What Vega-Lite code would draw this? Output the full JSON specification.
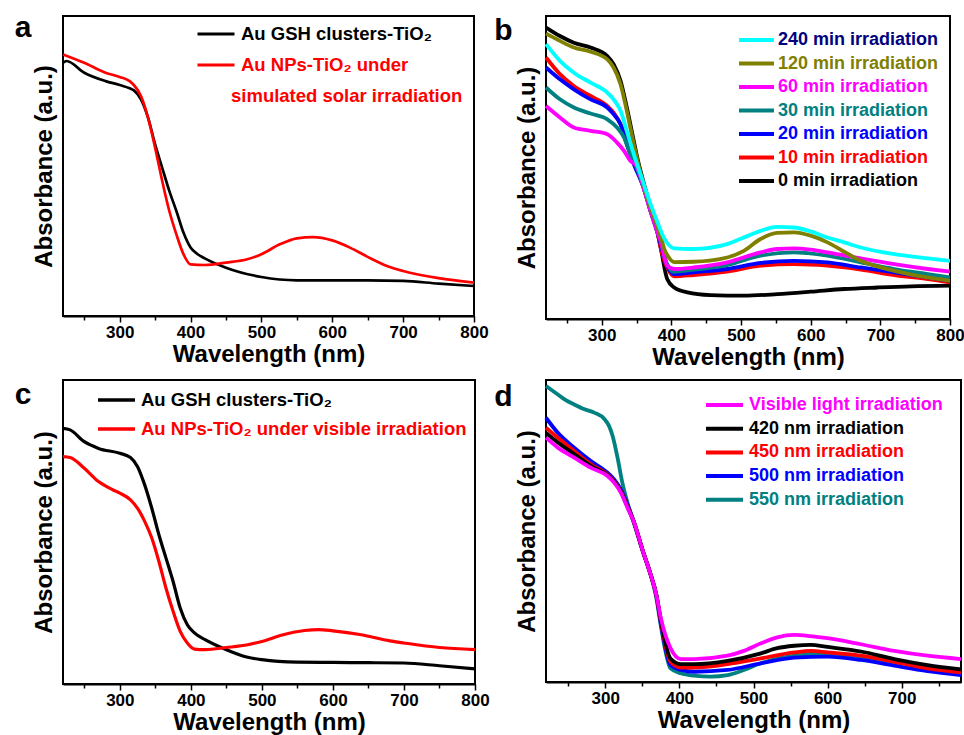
{
  "$schema": "https://vega.github.io/schema/vega-lite/v6.json",
  "autosize": {"type": "pad"},
  "padding": {"left": 13, "top": 12, "right": 0, "bottom": 0},
  "background": "white",
  "config": {
    "font": "Liberation Sans",
    "view": {"stroke": "#000", "strokeWidth": 2},
    "axis": {"grid": false, "labelFont": "Liberation Sans", "titleFont": "Liberation Sans", "labelFontWeight": "bold", "titleFontWeight": "bold", "labelColor": "#000", "titleColor": "#000", "domainColor": "#000", "tickColor": "#000"},
    "legend": {"title": null, "orient": "none", "symbolType": "stroke", "labelFont": "Liberation Sans", "labelFontWeight": "bold", "labelFontSize": 18, "labelOffset": 4, "labelLimit": 400},
    "title": {"font": "Liberation Sans", "fontWeight": "bold", "fontSize": 30, "anchor": "end", "frame": "group", "orient": "left", "angle": 0, "align": "right", "baseline": "top", "offset": -16, "color": "#000"}
  },
  "datasets": {
    "a": [
      {"s": "Au GSH clusters-TiO₂", "wl": 220, "abs": 84.4}, {"s": "Au GSH clusters-TiO₂", "wl": 225, "abs": 85.0}, {"s": "Au GSH clusters-TiO₂", "wl": 250, "abs": 81.1}, {"s": "Au GSH clusters-TiO₂", "wl": 280, "abs": 78.3}, {"s": "Au GSH clusters-TiO₂", "wl": 300, "abs": 77.0}, {"s": "Au GSH clusters-TiO₂", "wl": 314, "abs": 75.9}, {"s": "Au GSH clusters-TiO₂", "wl": 320, "abs": 75.2}, {"s": "Au GSH clusters-TiO₂", "wl": 330, "abs": 72.2}, {"s": "Au GSH clusters-TiO₂", "wl": 340, "abs": 66.1}, {"s": "Au GSH clusters-TiO₂", "wl": 350, "abs": 57.2}, {"s": "Au GSH clusters-TiO₂", "wl": 360, "abs": 49.4}, {"s": "Au GSH clusters-TiO₂", "wl": 370, "abs": 41.7}, {"s": "Au GSH clusters-TiO₂", "wl": 380, "abs": 35.0}, {"s": "Au GSH clusters-TiO₂", "wl": 390, "abs": 27.8}, {"s": "Au GSH clusters-TiO₂", "wl": 400, "abs": 22.8}, {"s": "Au GSH clusters-TiO₂", "wl": 410, "abs": 20.6}, {"s": "Au GSH clusters-TiO₂", "wl": 420, "abs": 19.2}, {"s": "Au GSH clusters-TiO₂", "wl": 450, "abs": 16.1}, {"s": "Au GSH clusters-TiO₂", "wl": 500, "abs": 13.0}, {"s": "Au GSH clusters-TiO₂", "wl": 550, "abs": 11.9}, {"s": "Au GSH clusters-TiO₂", "wl": 600, "abs": 11.9}, {"s": "Au GSH clusters-TiO₂", "wl": 650, "abs": 11.9}, {"s": "Au GSH clusters-TiO₂", "wl": 700, "abs": 11.7}, {"s": "Au GSH clusters-TiO₂", "wl": 750, "abs": 10.8}, {"s": "Au GSH clusters-TiO₂", "wl": 800, "abs": 10.0},
      {"s": "Au NPs-TiO₂ under", "wl": 220, "abs": 87.2}, {"s": "Au NPs-TiO₂ under", "wl": 250, "abs": 84.4}, {"s": "Au NPs-TiO₂ under", "wl": 280, "abs": 81.1}, {"s": "Au NPs-TiO₂ under", "wl": 300, "abs": 79.7}, {"s": "Au NPs-TiO₂ under", "wl": 314, "abs": 78.3}, {"s": "Au NPs-TiO₂ under", "wl": 320, "abs": 77.0}, {"s": "Au NPs-TiO₂ under", "wl": 330, "abs": 73.3}, {"s": "Au NPs-TiO₂ under", "wl": 340, "abs": 66.1}, {"s": "Au NPs-TiO₂ under", "wl": 350, "abs": 56.1}, {"s": "Au NPs-TiO₂ under", "wl": 360, "abs": 45.0}, {"s": "Au NPs-TiO₂ under", "wl": 370, "abs": 35.0}, {"s": "Au NPs-TiO₂ under", "wl": 380, "abs": 27.2}, {"s": "Au NPs-TiO₂ under", "wl": 390, "abs": 20.6}, {"s": "Au NPs-TiO₂ under", "wl": 400, "abs": 17.2}, {"s": "Au NPs-TiO₂ under", "wl": 420, "abs": 17.0}, {"s": "Au NPs-TiO₂ under", "wl": 450, "abs": 17.8}, {"s": "Au NPs-TiO₂ under", "wl": 480, "abs": 18.9}, {"s": "Au NPs-TiO₂ under", "wl": 500, "abs": 20.6}, {"s": "Au NPs-TiO₂ under", "wl": 526, "abs": 23.9}, {"s": "Au NPs-TiO₂ under", "wl": 550, "abs": 25.9}, {"s": "Au NPs-TiO₂ under", "wl": 573, "abs": 26.3}, {"s": "Au NPs-TiO₂ under", "wl": 600, "abs": 25.2}, {"s": "Au NPs-TiO₂ under", "wl": 625, "abs": 22.8}, {"s": "Au NPs-TiO₂ under", "wl": 650, "abs": 19.7}, {"s": "Au NPs-TiO₂ under", "wl": 677, "abs": 16.7}, {"s": "Au NPs-TiO₂ under", "wl": 700, "abs": 15.0}, {"s": "Au NPs-TiO₂ under", "wl": 750, "abs": 12.6}, {"s": "Au NPs-TiO₂ under", "wl": 800, "abs": 11.1}
    ],
    "b": [
      {"s": "0 min irradiation", "wl": 220, "abs": 96.2}, {"s": "0 min irradiation", "wl": 240, "abs": 93.4}, {"s": "0 min irradiation", "wl": 260, "abs": 91.2}, {"s": "0 min irradiation", "wl": 284, "abs": 89.6}, {"s": "0 min irradiation", "wl": 308, "abs": 86.8}, {"s": "0 min irradiation", "wl": 317, "abs": 84.1}, {"s": "0 min irradiation", "wl": 327, "abs": 78.6}, {"s": "0 min irradiation", "wl": 336, "abs": 69.8}, {"s": "0 min irradiation", "wl": 346, "abs": 58.8}, {"s": "0 min irradiation", "wl": 351, "abs": 53.3}, {"s": "0 min irradiation", "wl": 360, "abs": 45.1}, {"s": "0 min irradiation", "wl": 370, "abs": 36.8}, {"s": "0 min irradiation", "wl": 380, "abs": 28.6}, {"s": "0 min irradiation", "wl": 385, "abs": 23.1}, {"s": "0 min irradiation", "wl": 394, "abs": 13.2}, {"s": "0 min irradiation", "wl": 404, "abs": 10.4}, {"s": "0 min irradiation", "wl": 423, "abs": 8.8}, {"s": "0 min irradiation", "wl": 456, "abs": 7.9}, {"s": "0 min irradiation", "wl": 504, "abs": 7.7}, {"s": "0 min irradiation", "wl": 552, "abs": 8.2}, {"s": "0 min irradiation", "wl": 600, "abs": 9.0}, {"s": "0 min irradiation", "wl": 648, "abs": 9.9}, {"s": "0 min irradiation", "wl": 696, "abs": 10.4}, {"s": "0 min irradiation", "wl": 744, "abs": 10.8}, {"s": "0 min irradiation", "wl": 800, "abs": 11.0},
      {"s": "10 min irradiation", "wl": 220, "abs": 86.3}, {"s": "10 min irradiation", "wl": 240, "abs": 80.8}, {"s": "10 min irradiation", "wl": 260, "abs": 76.9}, {"s": "10 min irradiation", "wl": 284, "abs": 73.6}, {"s": "10 min irradiation", "wl": 308, "abs": 70.3}, {"s": "10 min irradiation", "wl": 317, "abs": 68.1}, {"s": "10 min irradiation", "wl": 327, "abs": 64.3}, {"s": "10 min irradiation", "wl": 336, "abs": 58.8}, {"s": "10 min irradiation", "wl": 346, "abs": 52.2}, {"s": "10 min irradiation", "wl": 360, "abs": 43.4}, {"s": "10 min irradiation", "wl": 370, "abs": 35.7}, {"s": "10 min irradiation", "wl": 380, "abs": 28.6}, {"s": "10 min irradiation", "wl": 385, "abs": 23.1}, {"s": "10 min irradiation", "wl": 394, "abs": 17.0}, {"s": "10 min irradiation", "wl": 404, "abs": 14.1}, {"s": "10 min irradiation", "wl": 432, "abs": 14.5}, {"s": "10 min irradiation", "wl": 480, "abs": 15.6}, {"s": "10 min irradiation", "wl": 528, "abs": 17.6}, {"s": "10 min irradiation", "wl": 576, "abs": 18.1}, {"s": "10 min irradiation", "wl": 624, "abs": 17.6}, {"s": "10 min irradiation", "wl": 672, "abs": 16.3}, {"s": "10 min irradiation", "wl": 720, "abs": 14.5}, {"s": "10 min irradiation", "wl": 768, "abs": 13.2}, {"s": "10 min irradiation", "wl": 800, "abs": 12.1},
      {"s": "20 min irradiation", "wl": 220, "abs": 83.0}, {"s": "20 min irradiation", "wl": 240, "abs": 79.1}, {"s": "20 min irradiation", "wl": 260, "abs": 75.8}, {"s": "20 min irradiation", "wl": 284, "abs": 72.5}, {"s": "20 min irradiation", "wl": 308, "abs": 69.8}, {"s": "20 min irradiation", "wl": 317, "abs": 67.6}, {"s": "20 min irradiation", "wl": 327, "abs": 64.3}, {"s": "20 min irradiation", "wl": 336, "abs": 57.7}, {"s": "20 min irradiation", "wl": 346, "abs": 51.1}, {"s": "20 min irradiation", "wl": 360, "abs": 43.4}, {"s": "20 min irradiation", "wl": 370, "abs": 35.7}, {"s": "20 min irradiation", "wl": 380, "abs": 28.6}, {"s": "20 min irradiation", "wl": 385, "abs": 24.2}, {"s": "20 min irradiation", "wl": 394, "abs": 17.6}, {"s": "20 min irradiation", "wl": 404, "abs": 14.8}, {"s": "20 min irradiation", "wl": 432, "abs": 15.4}, {"s": "20 min irradiation", "wl": 480, "abs": 16.5}, {"s": "20 min irradiation", "wl": 528, "abs": 18.5}, {"s": "20 min irradiation", "wl": 576, "abs": 19.2}, {"s": "20 min irradiation", "wl": 624, "abs": 18.7}, {"s": "20 min irradiation", "wl": 672, "abs": 17.0}, {"s": "20 min irradiation", "wl": 720, "abs": 15.4}, {"s": "20 min irradiation", "wl": 768, "abs": 13.7}, {"s": "20 min irradiation", "wl": 800, "abs": 12.6},
      {"s": "30 min irradiation", "wl": 220, "abs": 76.4}, {"s": "30 min irradiation", "wl": 240, "abs": 72.5}, {"s": "30 min irradiation", "wl": 260, "abs": 69.8}, {"s": "30 min irradiation", "wl": 284, "abs": 67.8}, {"s": "30 min irradiation", "wl": 308, "abs": 65.9}, {"s": "30 min irradiation", "wl": 322, "abs": 63.2}, {"s": "30 min irradiation", "wl": 332, "abs": 59.9}, {"s": "30 min irradiation", "wl": 341, "abs": 54.4}, {"s": "30 min irradiation", "wl": 350, "abs": 50.0}, {"s": "30 min irradiation", "wl": 360, "abs": 43.4}, {"s": "30 min irradiation", "wl": 370, "abs": 35.7}, {"s": "30 min irradiation", "wl": 380, "abs": 28.6}, {"s": "30 min irradiation", "wl": 385, "abs": 25.3}, {"s": "30 min irradiation", "wl": 394, "abs": 18.1}, {"s": "30 min irradiation", "wl": 404, "abs": 15.6}, {"s": "30 min irradiation", "wl": 432, "abs": 16.3}, {"s": "30 min irradiation", "wl": 480, "abs": 17.8}, {"s": "30 min irradiation", "wl": 528, "abs": 20.9}, {"s": "30 min irradiation", "wl": 576, "abs": 22.0}, {"s": "30 min irradiation", "wl": 624, "abs": 20.9}, {"s": "30 min irradiation", "wl": 672, "abs": 18.7}, {"s": "30 min irradiation", "wl": 720, "abs": 16.5}, {"s": "30 min irradiation", "wl": 768, "abs": 14.8}, {"s": "30 min irradiation", "wl": 800, "abs": 13.7},
      {"s": "60 min irradiation", "wl": 220, "abs": 70.3}, {"s": "60 min irradiation", "wl": 240, "abs": 66.5}, {"s": "60 min irradiation", "wl": 260, "abs": 63.2}, {"s": "60 min irradiation", "wl": 284, "abs": 62.1}, {"s": "60 min irradiation", "wl": 308, "abs": 61.0}, {"s": "60 min irradiation", "wl": 322, "abs": 58.2}, {"s": "60 min irradiation", "wl": 332, "abs": 55.5}, {"s": "60 min irradiation", "wl": 341, "abs": 52.2}, {"s": "60 min irradiation", "wl": 350, "abs": 50.5}, {"s": "60 min irradiation", "wl": 360, "abs": 43.4}, {"s": "60 min irradiation", "wl": 370, "abs": 35.7}, {"s": "60 min irradiation", "wl": 380, "abs": 28.6}, {"s": "60 min irradiation", "wl": 385, "abs": 25.3}, {"s": "60 min irradiation", "wl": 394, "abs": 17.6}, {"s": "60 min irradiation", "wl": 404, "abs": 16.5}, {"s": "60 min irradiation", "wl": 432, "abs": 17.0}, {"s": "60 min irradiation", "wl": 480, "abs": 18.7}, {"s": "60 min irradiation", "wl": 528, "abs": 22.0}, {"s": "60 min irradiation", "wl": 552, "abs": 23.1}, {"s": "60 min irradiation", "wl": 576, "abs": 23.3}, {"s": "60 min irradiation", "wl": 600, "abs": 22.9}, {"s": "60 min irradiation", "wl": 624, "abs": 22.0}, {"s": "60 min irradiation", "wl": 672, "abs": 20.0}, {"s": "60 min irradiation", "wl": 720, "abs": 18.1}, {"s": "60 min irradiation", "wl": 768, "abs": 16.5}, {"s": "60 min irradiation", "wl": 800, "abs": 15.6},
      {"s": "120 min irradiation", "wl": 220, "abs": 94.2}, {"s": "120 min irradiation", "wl": 240, "abs": 91.8}, {"s": "120 min irradiation", "wl": 260, "abs": 89.6}, {"s": "120 min irradiation", "wl": 284, "abs": 88.2}, {"s": "120 min irradiation", "wl": 308, "abs": 85.7}, {"s": "120 min irradiation", "wl": 317, "abs": 83.0}, {"s": "120 min irradiation", "wl": 327, "abs": 77.5}, {"s": "120 min irradiation", "wl": 336, "abs": 68.7}, {"s": "120 min irradiation", "wl": 346, "abs": 57.7}, {"s": "120 min irradiation", "wl": 360, "abs": 44.5}, {"s": "120 min irradiation", "wl": 370, "abs": 37.0}, {"s": "120 min irradiation", "wl": 380, "abs": 30.5}, {"s": "120 min irradiation", "wl": 385, "abs": 27.0}, {"s": "120 min irradiation", "wl": 390, "abs": 23.0}, {"s": "120 min irradiation", "wl": 395, "abs": 20.8}, {"s": "120 min irradiation", "wl": 404, "abs": 18.8}, {"s": "120 min irradiation", "wl": 432, "abs": 18.9}, {"s": "120 min irradiation", "wl": 480, "abs": 20.3}, {"s": "120 min irradiation", "wl": 504, "abs": 22.5}, {"s": "120 min irradiation", "wl": 528, "abs": 26.4}, {"s": "120 min irradiation", "wl": 552, "abs": 28.4}, {"s": "120 min irradiation", "wl": 576, "abs": 28.6}, {"s": "120 min irradiation", "wl": 600, "abs": 27.5}, {"s": "120 min irradiation", "wl": 624, "abs": 25.3}, {"s": "120 min irradiation", "wl": 648, "abs": 22.2}, {"s": "120 min irradiation", "wl": 672, "abs": 19.2}, {"s": "120 min irradiation", "wl": 720, "abs": 15.9}, {"s": "120 min irradiation", "wl": 768, "abs": 13.7}, {"s": "120 min irradiation", "wl": 800, "abs": 12.6},
      {"s": "240 min irradiation", "wl": 220, "abs": 90.7}, {"s": "240 min irradiation", "wl": 240, "abs": 85.2}, {"s": "240 min irradiation", "wl": 260, "abs": 81.3}, {"s": "240 min irradiation", "wl": 284, "abs": 78.0}, {"s": "240 min irradiation", "wl": 308, "abs": 74.7}, {"s": "240 min irradiation", "wl": 317, "abs": 72.5}, {"s": "240 min irradiation", "wl": 327, "abs": 68.7}, {"s": "240 min irradiation", "wl": 336, "abs": 62.1}, {"s": "240 min irradiation", "wl": 346, "abs": 54.4}, {"s": "240 min irradiation", "wl": 360, "abs": 44.8}, {"s": "240 min irradiation", "wl": 370, "abs": 38.0}, {"s": "240 min irradiation", "wl": 380, "abs": 32.0}, {"s": "240 min irradiation", "wl": 385, "abs": 29.0}, {"s": "240 min irradiation", "wl": 390, "abs": 26.5}, {"s": "240 min irradiation", "wl": 395, "abs": 24.8}, {"s": "240 min irradiation", "wl": 404, "abs": 23.3}, {"s": "240 min irradiation", "wl": 432, "abs": 23.1}, {"s": "240 min irradiation", "wl": 480, "abs": 24.7}, {"s": "240 min irradiation", "wl": 504, "abs": 26.9}, {"s": "240 min irradiation", "wl": 528, "abs": 29.1}, {"s": "240 min irradiation", "wl": 552, "abs": 30.4}, {"s": "240 min irradiation", "wl": 576, "abs": 30.2}, {"s": "240 min irradiation", "wl": 600, "abs": 28.9}, {"s": "240 min irradiation", "wl": 624, "abs": 26.9}, {"s": "240 min irradiation", "wl": 648, "abs": 25.3}, {"s": "240 min irradiation", "wl": 672, "abs": 23.6}, {"s": "240 min irradiation", "wl": 720, "abs": 21.4}, {"s": "240 min irradiation", "wl": 768, "abs": 20.0}, {"s": "240 min irradiation", "wl": 800, "abs": 19.2}
    ],
    "c": [
      {"s": "Au GSH clusters-TiO₂", "wl": 220, "abs": 84.1}, {"s": "Au GSH clusters-TiO₂", "wl": 230, "abs": 83.6}, {"s": "Au GSH clusters-TiO₂", "wl": 250, "abs": 79.7}, {"s": "Au GSH clusters-TiO₂", "wl": 270, "abs": 77.5}, {"s": "Au GSH clusters-TiO₂", "wl": 300, "abs": 75.9}, {"s": "Au GSH clusters-TiO₂", "wl": 315, "abs": 74.5}, {"s": "Au GSH clusters-TiO₂", "wl": 325, "abs": 71.5}, {"s": "Au GSH clusters-TiO₂", "wl": 335, "abs": 65.5}, {"s": "Au GSH clusters-TiO₂", "wl": 345, "abs": 57.8}, {"s": "Au GSH clusters-TiO₂", "wl": 355, "abs": 49.1}, {"s": "Au GSH clusters-TiO₂", "wl": 365, "abs": 41.4}, {"s": "Au GSH clusters-TiO₂", "wl": 375, "abs": 33.7}, {"s": "Au GSH clusters-TiO₂", "wl": 385, "abs": 25.0}, {"s": "Au GSH clusters-TiO₂", "wl": 395, "abs": 19.5}, {"s": "Au GSH clusters-TiO₂", "wl": 405, "abs": 16.8}, {"s": "Au GSH clusters-TiO₂", "wl": 420, "abs": 14.6}, {"s": "Au GSH clusters-TiO₂", "wl": 450, "abs": 11.3}, {"s": "Au GSH clusters-TiO₂", "wl": 480, "abs": 8.8}, {"s": "Au GSH clusters-TiO₂", "wl": 500, "abs": 8.0}, {"s": "Au GSH clusters-TiO₂", "wl": 550, "abs": 7.2}, {"s": "Au GSH clusters-TiO₂", "wl": 600, "abs": 7.1}, {"s": "Au GSH clusters-TiO₂", "wl": 650, "abs": 7.0}, {"s": "Au GSH clusters-TiO₂", "wl": 700, "abs": 6.9}, {"s": "Au GSH clusters-TiO₂", "wl": 750, "abs": 6.0}, {"s": "Au GSH clusters-TiO₂", "wl": 800, "abs": 5.0},
      {"s": "Au NPs-TiO₂ under visible irradiation", "wl": 220, "abs": 74.8}, {"s": "Au NPs-TiO₂ under visible irradiation", "wl": 230, "abs": 74.5}, {"s": "Au NPs-TiO₂ under visible irradiation", "wl": 250, "abs": 71.0}, {"s": "Au NPs-TiO₂ under visible irradiation", "wl": 270, "abs": 66.6}, {"s": "Au NPs-TiO₂ under visible irradiation", "wl": 290, "abs": 63.9}, {"s": "Au NPs-TiO₂ under visible irradiation", "wl": 300, "abs": 62.8}, {"s": "Au NPs-TiO₂ under visible irradiation", "wl": 315, "abs": 60.6}, {"s": "Au NPs-TiO₂ under visible irradiation", "wl": 325, "abs": 57.8}, {"s": "Au NPs-TiO₂ under visible irradiation", "wl": 335, "abs": 53.5}, {"s": "Au NPs-TiO₂ under visible irradiation", "wl": 345, "abs": 48.0}, {"s": "Au NPs-TiO₂ under visible irradiation", "wl": 355, "abs": 40.3}, {"s": "Au NPs-TiO₂ under visible irradiation", "wl": 365, "abs": 31.5}, {"s": "Au NPs-TiO₂ under visible irradiation", "wl": 375, "abs": 23.9}, {"s": "Au NPs-TiO₂ under visible irradiation", "wl": 385, "abs": 17.3}, {"s": "Au NPs-TiO₂ under visible irradiation", "wl": 395, "abs": 13.5}, {"s": "Au NPs-TiO₂ under visible irradiation", "wl": 405, "abs": 11.5}, {"s": "Au NPs-TiO₂ under visible irradiation", "wl": 420, "abs": 11.3}, {"s": "Au NPs-TiO₂ under visible irradiation", "wl": 450, "abs": 12.0}, {"s": "Au NPs-TiO₂ under visible irradiation", "wl": 480, "abs": 12.9}, {"s": "Au NPs-TiO₂ under visible irradiation", "wl": 500, "abs": 14.0}, {"s": "Au NPs-TiO₂ under visible irradiation", "wl": 530, "abs": 16.2}, {"s": "Au NPs-TiO₂ under visible irradiation", "wl": 560, "abs": 17.6}, {"s": "Au NPs-TiO₂ under visible irradiation", "wl": 580, "abs": 17.9}, {"s": "Au NPs-TiO₂ under visible irradiation", "wl": 600, "abs": 17.5}, {"s": "Au NPs-TiO₂ under visible irradiation", "wl": 640, "abs": 16.2}, {"s": "Au NPs-TiO₂ under visible irradiation", "wl": 680, "abs": 14.2}, {"s": "Au NPs-TiO₂ under visible irradiation", "wl": 700, "abs": 13.5}, {"s": "Au NPs-TiO₂ under visible irradiation", "wl": 750, "abs": 12.0}, {"s": "Au NPs-TiO₂ under visible irradiation", "wl": 800, "abs": 11.3}
    ],
    "d": [
      {"s": "550 nm irradiation", "wl": 220, "abs": 98.0}, {"s": "550 nm irradiation", "wl": 236, "abs": 95.2}, {"s": "550 nm irradiation", "wl": 245, "abs": 93.6}, {"s": "550 nm irradiation", "wl": 258, "abs": 91.9}, {"s": "550 nm irradiation", "wl": 272, "abs": 90.3}, {"s": "550 nm irradiation", "wl": 285, "abs": 89.2}, {"s": "550 nm irradiation", "wl": 299, "abs": 87.0}, {"s": "550 nm irradiation", "wl": 305, "abs": 84.8}, {"s": "550 nm irradiation", "wl": 310, "abs": 81.4}, {"s": "550 nm irradiation", "wl": 317, "abs": 73.7}, {"s": "550 nm irradiation", "wl": 323, "abs": 66.0}, {"s": "550 nm irradiation", "wl": 330, "abs": 59.3}, {"s": "550 nm irradiation", "wl": 337, "abs": 53.8}, {"s": "550 nm irradiation", "wl": 351, "abs": 43.1}, {"s": "550 nm irradiation", "wl": 360, "abs": 36.5}, {"s": "550 nm irradiation", "wl": 369, "abs": 27.6}, {"s": "550 nm irradiation", "wl": 375, "abs": 18.5}, {"s": "550 nm irradiation", "wl": 388, "abs": 4.5}, {"s": "550 nm irradiation", "wl": 402, "abs": 2.9}, {"s": "550 nm irradiation", "wl": 420, "abs": 2.1}, {"s": "550 nm irradiation", "wl": 442, "abs": 1.8}, {"s": "550 nm irradiation", "wl": 465, "abs": 2.3}, {"s": "550 nm irradiation", "wl": 487, "abs": 4.0}, {"s": "550 nm irradiation", "wl": 510, "abs": 6.2}, {"s": "550 nm irradiation", "wl": 555, "abs": 8.7}, {"s": "550 nm irradiation", "wl": 600, "abs": 9.5}, {"s": "550 nm irradiation", "wl": 645, "abs": 8.4}, {"s": "550 nm irradiation", "wl": 690, "abs": 6.5}, {"s": "550 nm irradiation", "wl": 735, "abs": 5.1}, {"s": "550 nm irradiation", "wl": 780, "abs": 4.0},
      {"s": "500 nm irradiation", "wl": 220, "abs": 87.5}, {"s": "500 nm irradiation", "wl": 236, "abs": 82.5}, {"s": "500 nm irradiation", "wl": 258, "abs": 77.6}, {"s": "500 nm irradiation", "wl": 281, "abs": 73.1}, {"s": "500 nm irradiation", "wl": 303, "abs": 69.3}, {"s": "500 nm irradiation", "wl": 312, "abs": 67.1}, {"s": "500 nm irradiation", "wl": 321, "abs": 63.8}, {"s": "500 nm irradiation", "wl": 330, "abs": 58.8}, {"s": "500 nm irradiation", "wl": 339, "abs": 52.7}, {"s": "500 nm irradiation", "wl": 351, "abs": 43.1}, {"s": "500 nm irradiation", "wl": 360, "abs": 36.5}, {"s": "500 nm irradiation", "wl": 369, "abs": 28.7}, {"s": "500 nm irradiation", "wl": 375, "abs": 19.4}, {"s": "500 nm irradiation", "wl": 388, "abs": 5.6}, {"s": "500 nm irradiation", "wl": 402, "abs": 4.0}, {"s": "500 nm irradiation", "wl": 420, "abs": 3.4}, {"s": "500 nm irradiation", "wl": 465, "abs": 4.0}, {"s": "500 nm irradiation", "wl": 510, "abs": 6.2}, {"s": "500 nm irradiation", "wl": 555, "abs": 8.1}, {"s": "500 nm irradiation", "wl": 600, "abs": 8.4}, {"s": "500 nm irradiation", "wl": 645, "abs": 7.3}, {"s": "500 nm irradiation", "wl": 690, "abs": 5.4}, {"s": "500 nm irradiation", "wl": 735, "abs": 3.6}, {"s": "500 nm irradiation", "wl": 780, "abs": 2.3},
      {"s": "450 nm irradiation", "wl": 220, "abs": 84.2}, {"s": "450 nm irradiation", "wl": 236, "abs": 80.9}, {"s": "450 nm irradiation", "wl": 258, "abs": 76.5}, {"s": "450 nm irradiation", "wl": 281, "abs": 72.0}, {"s": "450 nm irradiation", "wl": 303, "abs": 68.7}, {"s": "450 nm irradiation", "wl": 312, "abs": 66.5}, {"s": "450 nm irradiation", "wl": 321, "abs": 63.2}, {"s": "450 nm irradiation", "wl": 330, "abs": 58.2}, {"s": "450 nm irradiation", "wl": 339, "abs": 52.7}, {"s": "450 nm irradiation", "wl": 351, "abs": 43.1}, {"s": "450 nm irradiation", "wl": 360, "abs": 36.5}, {"s": "450 nm irradiation", "wl": 369, "abs": 28.7}, {"s": "450 nm irradiation", "wl": 375, "abs": 20.0}, {"s": "450 nm irradiation", "wl": 388, "abs": 6.7}, {"s": "450 nm irradiation", "wl": 402, "abs": 4.8}, {"s": "450 nm irradiation", "wl": 420, "abs": 4.8}, {"s": "450 nm irradiation", "wl": 465, "abs": 5.9}, {"s": "450 nm irradiation", "wl": 510, "abs": 7.8}, {"s": "450 nm irradiation", "wl": 555, "abs": 9.8}, {"s": "450 nm irradiation", "wl": 577, "abs": 10.3}, {"s": "450 nm irradiation", "wl": 600, "abs": 9.8}, {"s": "450 nm irradiation", "wl": 645, "abs": 8.7}, {"s": "450 nm irradiation", "wl": 690, "abs": 6.7}, {"s": "450 nm irradiation", "wl": 735, "abs": 4.5}, {"s": "450 nm irradiation", "wl": 780, "abs": 3.2},
      {"s": "420 nm irradiation", "wl": 220, "abs": 82.5}, {"s": "420 nm irradiation", "wl": 236, "abs": 79.3}, {"s": "420 nm irradiation", "wl": 258, "abs": 75.5}, {"s": "420 nm irradiation", "wl": 281, "abs": 71.5}, {"s": "420 nm irradiation", "wl": 303, "abs": 68.5}, {"s": "420 nm irradiation", "wl": 312, "abs": 66.3}, {"s": "420 nm irradiation", "wl": 321, "abs": 63.0}, {"s": "420 nm irradiation", "wl": 330, "abs": 58.0}, {"s": "420 nm irradiation", "wl": 339, "abs": 52.7}, {"s": "420 nm irradiation", "wl": 351, "abs": 43.1}, {"s": "420 nm irradiation", "wl": 360, "abs": 36.5}, {"s": "420 nm irradiation", "wl": 369, "abs": 28.7}, {"s": "420 nm irradiation", "wl": 375, "abs": 20.5}, {"s": "420 nm irradiation", "wl": 388, "abs": 7.8}, {"s": "420 nm irradiation", "wl": 402, "abs": 5.9}, {"s": "420 nm irradiation", "wl": 420, "abs": 5.9}, {"s": "420 nm irradiation", "wl": 465, "abs": 7.0}, {"s": "420 nm irradiation", "wl": 510, "abs": 9.5}, {"s": "420 nm irradiation", "wl": 532, "abs": 11.2}, {"s": "420 nm irradiation", "wl": 555, "abs": 12.0}, {"s": "420 nm irradiation", "wl": 577, "abs": 12.3}, {"s": "420 nm irradiation", "wl": 600, "abs": 11.6}, {"s": "420 nm irradiation", "wl": 645, "abs": 10.1}, {"s": "420 nm irradiation", "wl": 690, "abs": 7.6}, {"s": "420 nm irradiation", "wl": 735, "abs": 5.6}, {"s": "420 nm irradiation", "wl": 780, "abs": 4.2},
      {"s": "Visible light irradiation", "wl": 220, "abs": 80.9}, {"s": "Visible light irradiation", "wl": 236, "abs": 77.6}, {"s": "Visible light irradiation", "wl": 258, "abs": 74.3}, {"s": "Visible light irradiation", "wl": 281, "abs": 70.9}, {"s": "Visible light irradiation", "wl": 303, "abs": 68.2}, {"s": "Visible light irradiation", "wl": 312, "abs": 66.0}, {"s": "Visible light irradiation", "wl": 321, "abs": 62.7}, {"s": "Visible light irradiation", "wl": 330, "abs": 57.7}, {"s": "Visible light irradiation", "wl": 339, "abs": 52.7}, {"s": "Visible light irradiation", "wl": 351, "abs": 43.1}, {"s": "Visible light irradiation", "wl": 360, "abs": 36.5}, {"s": "Visible light irradiation", "wl": 369, "abs": 28.7}, {"s": "Visible light irradiation", "wl": 375, "abs": 21.1}, {"s": "Visible light irradiation", "wl": 388, "abs": 11.2}, {"s": "Visible light irradiation", "wl": 402, "abs": 7.6}, {"s": "Visible light irradiation", "wl": 420, "abs": 7.6}, {"s": "Visible light irradiation", "wl": 465, "abs": 8.7}, {"s": "Visible light irradiation", "wl": 487, "abs": 10.3}, {"s": "Visible light irradiation", "wl": 510, "abs": 12.8}, {"s": "Visible light irradiation", "wl": 532, "abs": 14.8}, {"s": "Visible light irradiation", "wl": 555, "abs": 15.6}, {"s": "Visible light irradiation", "wl": 577, "abs": 15.2}, {"s": "Visible light irradiation", "wl": 600, "abs": 14.5}, {"s": "Visible light irradiation", "wl": 645, "abs": 12.5}, {"s": "Visible light irradiation", "wl": 690, "abs": 10.3}, {"s": "Visible light irradiation", "wl": 735, "abs": 8.7}, {"s": "Visible light irradiation", "wl": 780, "abs": 7.6}
    ]
  },
  "spacing": 7,
  "resolve": {"scale": {"x": "independent", "y": "independent", "color": "independent"}, "legend": {"color": "independent"}, "axis": {"x": "independent", "y": "independent"}},
  "vconcat": [
    {
      "spacing": 3,
      "resolve": {"scale": {"x": "independent", "y": "independent", "color": "independent"}, "legend": {"color": "independent"}, "axis": {"x": "independent", "y": "independent"}},
      "hconcat": [
        {
          "width": 411, "height": 300,
          "title": {"text": "a", "dy": -3},
          "data": {"name": "a"},
          "mark": {"type": "line", "strokeWidth": 2.7, "interpolate": "monotone"},
          "encoding": {
            "x": {"field": "wl", "type": "quantitative", "scale": {"domain": [220, 800], "nice": false, "zero": false},
              "axis": {"title": "Wavelength (nm)", "values": [250, 300, 350, 400, 450, 500, 550, 600, 650, 700, 750, 800], "labelExpr": "datum.value % 100 === 0 ? datum.label : ''", "format": "d", "tickSize": {"condition": {"test": "datum.value % 100 === 0", "value": 6}, "value": 4}, "tickWidth": 1.5, "domainWidth": 2, "labelFontSize": 17, "titleFontSize": 24, "labelPadding": 2, "titlePadding": 2, "labelFlush": false, "labelOverlap": false}},
            "y": {"field": "abs", "type": "quantitative", "scale": {"domain": [0, 100], "nice": false},
              "axis": {"title": "Absorbance (a.u.)", "ticks": false, "labels": false, "domain": false, "titleFontSize": 24, "titlePadding": 7}},
            "color": {"field": "s", "type": "nominal",
              "scale": {"domain": ["Au GSH clusters-TiO₂", "Au NPs-TiO₂ under", "simulated solar irradiation"], "range": ["#000000", "#ff0000", "#ff0000"]},
              "legend": {"legendX": 133, "legendY": 6, "clipHeight": 24, "rowPadding": 7, "symbolSize": 1369, "symbolStrokeWidth": 3, "labelFontSize": 18.5, "labelOffset": 5,
                "encode": {
                  "labels": {"update": {"fill": {"signal": "datum.value === 'Au GSH clusters-TiO₂' ? '#000000' : '#ff0000'"}, "dx": {"signal": "datum.value === 'simulated solar irradiation' ? -10 : 0"}}},
                  "symbols": {"update": {"opacity": {"signal": "datum.value === 'simulated solar irradiation' ? 0 : 1"}}}
                }}}
          }
        },
        {
          "width": 404, "height": 303,
          "title": {"text": "b", "dy": 0},
          "data": {"name": "b"},
          "mark": {"type": "line", "strokeWidth": 3.8, "interpolate": "monotone"},
          "encoding": {
            "x": {"field": "wl", "type": "quantitative", "scale": {"domain": [220, 800], "nice": false, "zero": false},
              "axis": {"title": "Wavelength (nm)", "values": [250, 300, 350, 400, 450, 500, 550, 600, 650, 700, 750, 800], "labelExpr": "datum.value % 100 === 0 ? datum.label : ''", "format": "d", "tickSize": {"condition": {"test": "datum.value % 100 === 0", "value": 6}, "value": 4}, "tickWidth": 1.5, "domainWidth": 2, "labelFontSize": 17, "titleFontSize": 24, "labelPadding": 2, "titlePadding": 2, "labelFlush": false, "labelOverlap": false}},
            "y": {"field": "abs", "type": "quantitative", "scale": {"domain": [0, 100], "nice": false},
              "axis": {"title": "Absorbance (a.u.)", "ticks": false, "labels": false, "domain": false, "titleFontSize": 24, "titlePadding": 7}},
            "color": {"field": "s", "type": "nominal",
              "scale": {"domain": ["240 min irradiation", "120 min irradiation", "60 min irradiation", "30 min irradiation", "20 min irradiation", "10 min irradiation", "0 min irradiation"], "range": ["#00ffff", "#808000", "#ff00ff", "#008080", "#0000ff", "#ff0000", "#000000"]},
              "legend": {"legendX": 191, "legendY": 14, "clipHeight": 20, "rowPadding": 3.5, "symbolSize": 1225, "symbolStrokeWidth": 4, "labelOffset": 2,
                "encode": {
                  "labels": {"update": {"fill": {"signal": "datum.value === '240 min irradiation' ? '#000080' : datum.value === '120 min irradiation' ? '#808000' : datum.value === '60 min irradiation' ? '#ff00ff' : datum.value === '30 min irradiation' ? '#008080' : datum.value === '20 min irradiation' ? '#0000ff' : datum.value === '10 min irradiation' ? '#ff0000' : '#000000'"}}}
                }}}
          }
        }
      ]
    },
    {
      "spacing": 2,
      "resolve": {"scale": {"x": "independent", "y": "independent", "color": "independent"}, "legend": {"color": "independent"}, "axis": {"x": "independent", "y": "independent"}},
      "hconcat": [
        {
          "width": 412, "height": 304,
          "title": {"text": "c", "dy": 0},
          "data": {"name": "c"},
          "mark": {"type": "line", "strokeWidth": 3.2, "interpolate": "monotone"},
          "encoding": {
            "x": {"field": "wl", "type": "quantitative", "scale": {"domain": [220, 800], "nice": false, "zero": false},
              "axis": {"title": "Wavelength (nm)", "values": [250, 300, 350, 400, 450, 500, 550, 600, 650, 700, 750, 800], "labelExpr": "datum.value % 100 === 0 ? datum.label : ''", "format": "d", "tickSize": {"condition": {"test": "datum.value % 100 === 0", "value": 6}, "value": 4}, "tickWidth": 1.5, "domainWidth": 2, "labelFontSize": 17, "titleFontSize": 24, "labelPadding": 2, "titlePadding": 2, "labelFlush": false, "labelOverlap": false}},
            "y": {"field": "abs", "type": "quantitative", "scale": {"domain": [0, 100], "nice": false},
              "axis": {"title": "Absorbance (a.u.)", "ticks": false, "labels": false, "domain": false, "titleFontSize": 24, "titlePadding": 7}},
            "color": {"field": "s", "type": "nominal",
              "scale": {"domain": ["Au GSH clusters-TiO₂", "Au NPs-TiO₂ under visible irradiation"], "range": ["#000000", "#ff0000"]},
              "legend": {"legendX": 33, "legendY": 8, "clipHeight": 24, "rowPadding": 5, "symbolSize": 1369, "symbolStrokeWidth": 3.5, "labelFontSize": 18.5,
                "encode": {
                  "labels": {"update": {"fill": {"signal": "datum.value === 'Au GSH clusters-TiO₂' ? '#000000' : '#ff0000'"}}}
                }}}
          }
        },
        {
          "width": 415, "height": 302,
          "title": {"text": "d", "dy": 2},
          "data": {"name": "d"},
          "mark": {"type": "line", "strokeWidth": 3.8, "interpolate": "monotone"},
          "encoding": {
            "x": {"field": "wl", "type": "quantitative", "scale": {"domain": [220, 780], "nice": false, "zero": false},
              "axis": {"title": "Wavelength (nm)", "values": [250, 300, 350, 400, 450, 500, 550, 600, 650, 700, 750], "labelExpr": "datum.value % 100 === 0 ? datum.label : ''", "format": "d", "tickSize": {"condition": {"test": "datum.value % 100 === 0", "value": 6}, "value": 4}, "tickWidth": 1.5, "domainWidth": 2, "labelFontSize": 17, "titleFontSize": 24, "labelPadding": 2, "titlePadding": 2, "labelFlush": false, "labelOverlap": false}},
            "y": {"field": "abs", "type": "quantitative", "scale": {"domain": [0, 100], "nice": false},
              "axis": {"title": "Absorbance (a.u.)", "ticks": false, "labels": false, "domain": false, "titleFontSize": 24, "titlePadding": 7}},
            "color": {"field": "s", "type": "nominal",
              "scale": {"domain": ["Visible light irradiation", "420 nm irradiation", "450 nm irradiation", "500 nm irradiation", "550 nm irradiation"], "range": ["#ff00ff", "#000000", "#ff0000", "#0000ff", "#008080"]},
              "legend": {"legendX": 158, "legendY": 15, "clipHeight": 20, "rowPadding": 3.7, "symbolSize": 1369, "symbolStrokeWidth": 4,
                "encode": {
                  "labels": {"update": {"fill": {"signal": "datum.value === 'Visible light irradiation' ? '#ff00ff' : datum.value === '420 nm irradiation' ? '#000000' : datum.value === '450 nm irradiation' ? '#ff0000' : datum.value === '500 nm irradiation' ? '#0000ff' : '#008080'"}}}
                }}}
          }
        }
      ]
    }
  ]
}
